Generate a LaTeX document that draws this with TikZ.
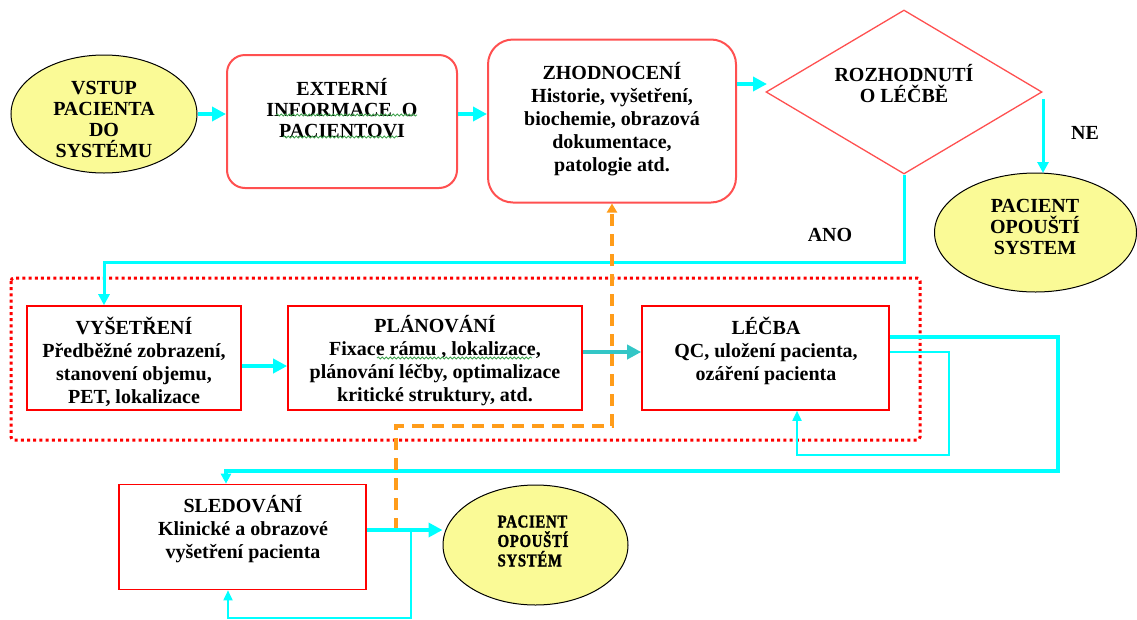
\documentclass[tikz,border=0pt]{standalone}
\usepackage{fontspec}
\setmainfont{Liberation Serif}
\newfontfamily\narrowfnt{Liberation Serif Bold}[FakeStretch=0.82,LetterSpace=4,FakeBold=1.5]
\usepackage{tikz}
\usetikzlibrary{shapes.geometric,positioning}
\usetikzlibrary{arrows.meta,decorations.pathmorphing}
\definecolor{aqua}{HTML}{00FFFF}
\definecolor{tealarr}{HTML}{33C6C6}
\definecolor{softred}{HTML}{FF5050}
\definecolor{paleyellow}{HTML}{FAFA96}
\definecolor{orangedash}{HTML}{FF9C1A}
\definecolor{squig}{HTML}{3FA34D}

\begin{document}
\begin{tikzpicture}[x=1pt,y=-1pt,
  txt/.style={align=center,font=\bfseries\fontsize{20}{23}\selectfont,inner sep=0pt},
  oval/.style={ellipse,draw=black,line width=1pt,fill=paleyellow,inner sep=0pt},
  roundbox/.style={draw=softred,line width=2pt,inner sep=0pt},
  redbox/.style={draw=red,line width=1.6pt,inner sep=0pt,minimum height=104pt},
  flow/.style={draw=aqua,line width=4pt,-{Triangle[length=14pt,width=14pt]}},
  thinflow/.style={draw=aqua,line width=1.8pt,-{Triangle[length=10pt,width=9pt]}},
  squiggle/.style={draw=squig,line width=0.8pt,decorate,decoration={snake,amplitude=1.1pt,segment length=4pt}}]
\useasboundingbox (0,0) rectangle (1137,619);

% top row
\node[oval,minimum width=186pt,minimum height=118pt] (vstup) at (104,114) {};
\node[txt,font=\bfseries\fontsize{20}{21}\selectfont] (vstup-t) at (104,119) {VSTUP\\PACIENTA\\DO\\SYSTÉMU};
\node[roundbox,rounded corners=18pt,minimum width=230pt,minimum height=133pt] (ext) at (342,121.5) {};
\node[txt,font=\bfseries\fontsize{20}{21}\selectfont] (ext-t) at (342,108) {EXTERNÍ\\INFORMACE \ O\\PACIENTOVI};
\node[roundbox,rounded corners=25pt,minimum width=248pt,minimum height=163pt] (zhod) at (612,121) {};
\node[txt] (zhod-t) at (612,119) {ZHODNOCENÍ\\Historie, vyšetření,\\biochemie, obrazová\\dokumentace,\\patologie atd.};
\node[diamond,draw=softred,line width=1.3pt,inner sep=0pt,minimum width=276pt,minimum height=164pt] (rozh) at (904,92) {};
\node[txt,font=\bfseries\fontsize{20}{21}\selectfont] (rozh-t) at (904,84) {ROZHODNUTÍ\\O LÉČBĚ};
\node[oval,minimum width=202pt,minimum height=119pt] (pac1) at (1035.5,232.5) {};
\node[txt,font=\bfseries\fontsize{20}{21}\selectfont] (pac1-t) at (1035,227) {PACIENT\\OPOUŠTÍ\\SYSTEM};
\node[txt] (ne) at (1085,133) {NE};
\node[txt] (ano) at (830,235) {ANO};

% middle row
\draw[red,line width=3pt,dash pattern=on 3pt off 3.2pt,rounded corners=3pt] (11,278) rectangle (920,440);
\node[redbox,minimum width=214pt] (vys) at (134,358) {};
\node[txt] (vys-t) at (134,362) {VYŠETŘENÍ\\Předběžné zobrazení,\\stanovení objemu,\\PET, lokalizace};
\node[redbox,minimum width=294pt] (plan) at (435,358) {};
\node[txt] (plan-t) at (435,361) {PLÁNOVÁNÍ\\Fixace rámu , lokalizace,\\plánování léčby, optimalizace\\kritické struktury, atd.};
\node[redbox,minimum width=247pt] (lecba) at (765.5,358) {};
\node[txt] (lecba-t) at (766,351) {LÉČBA\\QC, uložení pacienta,\\ozáření pacienta};

% bottom row
\node[redbox,minimum width=247pt,minimum height=105pt] (sled) at (242.5,537) {};
\node[txt] (sled-t) at (243,529) {SLEDOVÁNÍ\\Klinické a obrazové\\vyšetření pacienta};
\node[oval,minimum width=185pt,minimum height=120pt] (pac2) at (535.5,545) {};
\node[align=left,inner sep=0pt,font=\narrowfnt\fontsize{18}{19.5}\selectfont] (pac2-t) at (533,541) {PACIENT\\OPOUŠTÍ\\SYSTÉM};

\coordinate (ano-c) at (104,262);
\coordinate (loopA) at (1058,471);
\coordinate (loopB) at (226,471);
\coordinate (thinA) at (949,455);
\coordinate (thinB) at (797,455);
\coordinate (oA) at (396,530);
\coordinate (oB) at (612,426);
\coordinate (sA) at (411,530);
\coordinate (sB) at (411,618);
\coordinate (sC) at (228,618);

\draw[flow] (vstup.east) -- (vstup.east -| ext.west);
\draw[flow] ([yshift=7.5pt]ext.east) -- ([yshift=7.5pt]ext.east -| zhod.west);
\draw[flow] ([yshift=37pt]zhod.east) -- ++(30,0);
\draw[flow,line width=3pt,-{Triangle[length=11pt,width=11pt]}] (1043,99) -- (1043,173);
\draw[flow,line width=3pt,-{Triangle[length=11pt,width=11pt]}] (rozh.south) |- (ano-c) -- (ano-c |- vys.north);
\draw[flow] ([yshift=-8pt]vys.east) -- ([yshift=-8pt]vys.east -| plan.west);
\draw[flow,draw=tealarr,line width=4.5pt] ([yshift=6pt]plan.east) -- ([yshift=6pt]plan.east -| lecba.west);
\draw[flow,line width=3.5pt,-{Triangle[length=10pt,width=10pt]}] ([yshift=21pt]lecba.east) -| (loopA) -- (loopB) -- (loopB |- sled.north);
\draw[thinflow] ([yshift=6pt]lecba.east) -| (thinA) -- (thinB) -- (thinB |- lecba.south);
\draw[orangedash,line width=3.5pt,dash pattern=on 12pt off 8pt,-{Triangle[length=9pt,width=10pt]}] (oA) |- (oB) -- (zhod.south);
\draw[flow] ([yshift=7pt]sled.east) -- ([yshift=7pt]sled.east -| pac2.west);
\draw[thinflow] (sA) -- (sB) -- (sC) -- (sC |- sled.south);

% spell check marks
\draw[squiggle] (276,115) -- (417,115);
\draw[squiggle] (283,137) -- (398,137);
\draw[squiggle] (377,358) -- (532,358);
\end{tikzpicture}
\end{document}
